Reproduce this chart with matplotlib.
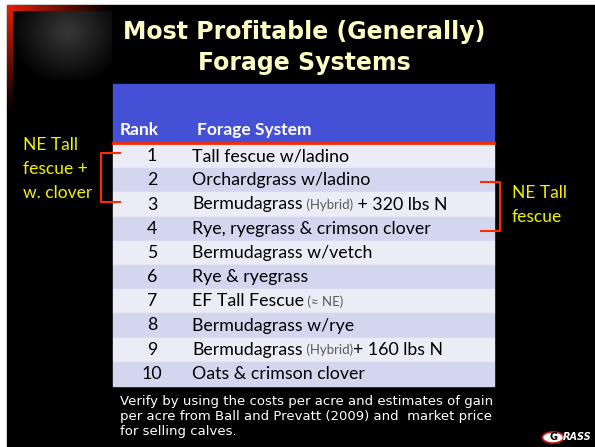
import numpy as np
import matplotlib
matplotlib.use('Agg')
import matplotlib.pyplot as plt
from matplotlib.patches import Rectangle, Ellipse

W, H = 595, 447

title_lines = ['Most Profitable (Generally)', 'Forage Systems']
header = ['Rank', 'Forage System']
ranks = [1, 2, 3, 4, 5, 6, 7, 8, 9, 10]
systems = ['Tall fescue w/ladino', 'Orchardgrass w/ladino', 'Bermudagrass',
           'Rye, ryegrass & crimson clover', 'Bermudagrass w/vetch', 'Rye & ryegrass',
           'EF Tall Fescue', 'Bermudagrass w/rye', 'Bermudagrass', 'Oats & crimson clover']
notes = ['', '', ' (Hybrid)', '', '', '', ' (\u2248 NE)', '', ' (Hybrid)', '']
suffixes = ['', '', ' + 320 lbs N', '', '', '', '', '', '+ 160 lbs N', '']
left_note = ['NE Tall', 'fescue +', 'w. clover']
right_note = ['NE Tall', 'fescue']
footer = ['Verify by using the costs per acre and estimates of gain',
          'per acre from Ball and Prevatt (2009) and  market price',
          'for selling calves.']

fig = plt.figure(figsize=(W / 100, H / 100), dpi=100, facecolor='white')
ax = fig.add_axes([0, 0, 1, 1])
ax.axis('off')

# slide background
ax.add_patch(Rectangle((7, 5), W - 7, H - 5, color='black', zorder=0))

# top-left decoration: dim building glow + red corner
yy, xx = np.mgrid[0:70, 0:100]
glow = np.clip(1 - np.hypot((xx - 55) / 60, (yy - 20) / 55), 0, 1) * 0.22
img = np.dstack([glow, glow, glow])
ax.imshow(img, extent=(13, 112, 80, 11), aspect='auto', zorder=1)
fade = np.linspace(1, 0, 100)
red_rgb = np.stack([0.9 * fade, 0.12 * fade, 0 * fade], axis=-1)
ax.imshow(red_rgb[None, :, :], extent=(7, 110, 11, 5), aspect='auto', zorder=2)
ax.imshow(red_rgb[:, None, :], extent=(7, 13, 110, 5), aspect='auto', zorder=2)

ax.set_xlim(0, W)
ax.set_ylim(H, 0)
renderer = fig.canvas.get_renderer()

# title
for i, line in enumerate(title_lines):
    ax.text(304, 32 + i * 31, line, ha='center', va='center', fontsize=17,
            fontweight='bold', color='#ffffc4', family='DejaVu Sans', zorder=3)

# table
tx0, tx1 = 113, 494
head_top, head_bot = 84, 143
row_h = (386 - 144) / len(ranks)
ax.add_patch(Rectangle((tx0, head_top), tx1 - tx0, head_bot - head_top,
                       color='#4450d6', zorder=2))
ax.plot([tx0, tx1], [head_bot, head_bot], color='#ff2a00', lw=2, zorder=3)
ax.text(120, 130, header[0], ha='left', va='center', fontsize=12.5,
        fontweight='bold', color='white', family='Lato', zorder=3)
ax.text(197, 130, header[1], ha='left', va='center', fontsize=12.5,
        fontweight='bold', color='white', family='Lato', zorder=3)

inv = ax.transData.inverted()
for i, r in enumerate(ranks):
    top = 144 + i * row_h
    yc = top + row_h / 2
    ax.add_patch(Rectangle((tx0, top), tx1 - tx0, row_h,
                           color='#ececf6' if i % 2 == 0 else '#d4d6ef', zorder=2))
    ax.text(152, yc, str(r), ha='center', va='center', fontsize=12.8,
            color='black', family='Lato', zorder=3)
    x = 192
    for txt, size, col in [(systems[i], 12.8, 'black'), (notes[i], 9.5, '#5a5a5a'),
                           (suffixes[i], 12.8, 'black')]:
        if not txt:
            continue
        t = ax.text(x, yc, txt, ha='left', va='center', fontsize=size,
                    color=col, family='Lato', zorder=3)
        bb = t.get_window_extent(renderer)
        x = inv.transform((bb.x1, bb.y0))[0]

# side brackets
red = '#ff2a00'
ax.plot([120, 101, 101, 120], [153, 153, 202, 202], color=red, lw=1.5, zorder=3)
ax.plot([481, 500, 500, 481], [182, 182, 231, 231], color=red, lw=1.5, zorder=3)
for i, line in enumerate(left_note):
    ax.text(23, 145 + i * 24, line, ha='left', va='center', fontsize=12.5,
            color='#f2f200', family='Lato', zorder=3)
for i, line in enumerate(right_note):
    ax.text(512, 193 + i * 24, line, ha='left', va='center', fontsize=12.5,
            color='#f2f200', family='Lato', zorder=3)

# footer
for i, line in enumerate(footer):
    ax.text(120, 401 + i * 15.5, line, ha='left', va='center', fontsize=9.5,
            color='white', family='DejaVu Sans', zorder=3)

# logo
ax.add_patch(Ellipse((553, 437.5), 21, 11, facecolor='white', edgecolor='#cc2222',
                     lw=1.2, zorder=3))
ax.text(553, 437.5, 'G', ha='center', va='center', fontsize=7, fontweight='bold',
        color='black', zorder=4)
ax.text(563, 437.5, 'RASS', ha='left', va='center', fontsize=7, fontweight='bold',
        style='italic', color='white', zorder=4)

ax.set_xlim(0, W)
ax.set_ylim(H, 0)
fig.savefig('out.png', dpi=100, facecolor='white')
